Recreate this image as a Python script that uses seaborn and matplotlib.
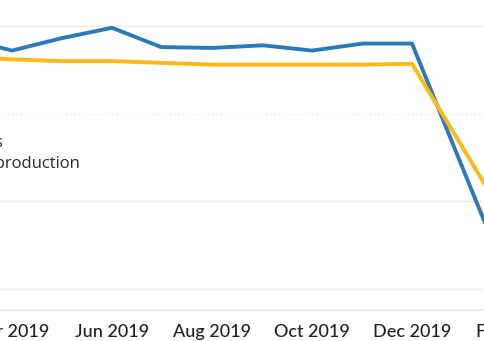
import matplotlib
matplotlib.use("Agg")
import matplotlib.pyplot as plt
import matplotlib.dates as mdates
import pandas as pd
import seaborn as sns

# China retail sales and industrial production, % y/y
months = ["2019-03", "2019-04", "2019-05", "2019-06", "2019-07", "2019-08",
          "2019-09", "2019-10", "2019-11", "2019-12", "2020-02"]
retail_sales = [8.7, 7.2, 8.6, 9.8, 7.6, 7.5, 7.8, 7.2, 8.0, 8.0, -20.5]
industrial_production = [6.5, 6.2, 6.0, 6.0, 5.8, 5.6, 5.6, 5.6, 5.6, 5.7, -13.5]
series_names = ["Retail sales", "Industrial production"]
grid_values = [10, 0, -10, -20]

dates = pd.to_datetime(months)
df = pd.concat([
    pd.DataFrame({"date": dates, "value": retail_sales, "series": series_names[0]}),
    pd.DataFrame({"date": dates, "value": industrial_production, "series": series_names[1]}),
])

sns.set_theme(style="white")
plt.rcParams["font.family"] = ["Lato", "DejaVu Sans"]

W, H = 485.0, 341.0
fig = plt.figure(figsize=(W / 100, H / 100), dpi=100)

# the plotting area runs past the left and right edges of the canvas
pad_l, pad_r = 120.0, 120.0
ax = fig.add_axes([-pad_l / W, (H - 310) / H, (W + pad_l + pad_r) / W, 310 / H])

palette = {series_names[0]: "#2A7AB8", series_names[1]: "#FDB813"}
sns.lineplot(data=df, x="date", y="value", hue="series", palette=palette,
             linewidth=2.8, ax=ax, legend=False, sort=True)

# horizontal guides, zero line dotted
for v in grid_values:
    ax.axhline(v, color="#e9e9e9", linewidth=1.0,
               linestyle=(0, (1, 2)) if v == 0 else "-", zorder=0)

# x range: 1.639 px per day, Apr 1 2019 sits 12 px in from the canvas edge
px_per_day = 100 / 61
left = mdates.date2num(pd.Timestamp("2019-04-01")) - (12 + pad_l) / px_per_day
ax.set_xlim(left, left + (W + pad_l + pad_r) / px_per_day)
ax.set_ylim(-22.4, 12.97)

ax.xaxis.set_major_locator(mdates.MonthLocator(bymonth=[2, 4, 6, 8, 10, 12]))
ax.xaxis.set_major_formatter(mdates.DateFormatter("%b %Y"))
ax.xaxis.set_minor_locator(mdates.MonthLocator())
ax.tick_params(axis="x", which="both", length=4, width=1, color="#e6e6e6",
               direction="out", pad=6, labelsize=13, labelcolor="#222222")
for lbl in ax.get_xticklabels():
    lbl.set_fontweight("medium")
ax.tick_params(axis="y", left=False, labelleft=False)
ax.set_xlabel("")
ax.set_ylabel("")

for side in ["top", "left", "right"]:
    ax.spines[side].set_visible(False)
ax.spines["bottom"].set_color("#e6e6e6")
ax.spines["bottom"].set_linewidth(1.0)

handles = ax.get_lines()[:2]
leg = ax.legend(handles, series_names, loc="center right",
                bbox_to_anchor=(80 / W, 1 - 153 / H),
                bbox_transform=fig.transFigure, frameon=False,
                borderpad=0, borderaxespad=0, labelspacing=0.3,
                prop={"family": ["Open Sans", "DejaVu Sans"], "size": 12})
for t in leg.get_texts():
    t.set_color("#2b2b2b")

fig.savefig("out.png", dpi=100)
